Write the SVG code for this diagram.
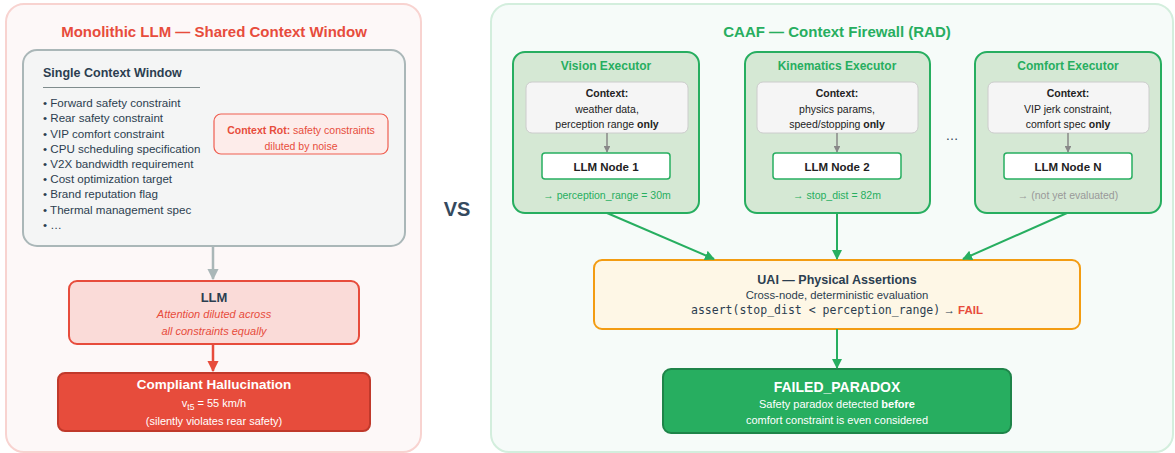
<svg xmlns="http://www.w3.org/2000/svg" width="1175" height="453" viewBox="0 0 1175 453">
<defs>
<style>
text{font-family:"Liberation Sans",Arial,sans-serif}
.b{font-weight:bold}
.c{text-anchor:middle}
.dark{fill:#2c3e50}
.red{fill:#e74c3c}
.grn{fill:#27ae60}
.wh{fill:#ffffff}
.exec{fill:#d5e8d4;stroke:#27ae60;stroke-width:2}
.ctx{fill:#f5f5f5;stroke:#cccccc;stroke-width:1}
.node{fill:#ffffff;stroke:#27ae60;stroke-width:1.5}
.et{font-size:12px;font-weight:bold;fill:#27ae60;text-anchor:middle}
.ct{font-size:10.5px;fill:#222;text-anchor:middle}
.nt{font-size:11.5px;font-weight:bold;fill:#222;text-anchor:middle}
.out{font-size:10.5px;text-anchor:middle}
.li{font-size:11.6px;fill:#2c3e50}
.gc{stroke:#27ae60;stroke-width:2;fill:none}
</style>
<marker id="ag" viewBox="0 0 10 10" refX="9" refY="5" markerWidth="5" markerHeight="5" orient="auto"><path d="M0,0L10,5L0,10z" fill="#27ae60"/></marker>
<marker id="agr" viewBox="0 0 10 10" refX="9" refY="5" markerWidth="4.5" markerHeight="4.5" orient="auto"><path d="M0,0L10,5L0,10z" fill="#888888"/></marker>
<marker id="ags" viewBox="0 0 10 10" refX="9" refY="5" markerWidth="4.5" markerHeight="4.5" orient="auto"><path d="M0,0L10,5L0,10z" fill="#aab7b8"/></marker>
<marker id="ar" viewBox="0 0 10 10" refX="9" refY="5" markerWidth="4.5" markerHeight="4.5" orient="auto"><path d="M0,0L10,5L0,10z" fill="#e74c3c"/></marker>
</defs>

<g id="left-panel">
<rect x="6" y="4" width="415" height="448" rx="18" fill="#fdf8f8" stroke="#f8d3d0" stroke-width="2"/>
<text x="214" y="37" class="b c red" font-size="15">Monolithic LLM — Shared Context Window</text>
</g>

<g id="right-panel">
<rect x="491" y="4" width="682" height="448" rx="18" fill="#f6fbf9" stroke="#d3eedd" stroke-width="2"/>
<text x="837" y="37" class="b c grn" font-size="15">CAAF — Context Firewall (RAD)</text>
</g>

<g id="vs"><text x="457" y="216" class="b c" font-size="20" fill="#34495e">VS</text></g>

<g id="context-window">
<rect x="23" y="50" width="382" height="196" rx="14" fill="#f4f5f5" stroke="#aab7b8" stroke-width="2"/>
<text x="43" y="77" class="b dark" font-size="12.5">Single Context Window</text>
<line x1="43" y1="87.5" x2="200" y2="87.5" stroke="#7f8c8d" stroke-width="1"/>
<text class="li" x="43" y="107">• Forward safety constraint</text>
<text class="li" x="43" y="122">• Rear safety constraint</text>
<text class="li" x="43" y="137.5">• VIP comfort constraint</text>
<text class="li" x="43" y="152.5">• CPU scheduling specification</text>
<text class="li" x="43" y="168">• V2X bandwidth requirement</text>
<text class="li" x="43" y="183">• Cost optimization target</text>
<text class="li" x="43" y="198">• Brand reputation flag</text>
<text class="li" x="43" y="214">• Thermal management spec</text>
<text class="li" x="43" y="229">• …</text>
</g>

<g id="context-rot">
<rect x="214" y="114" width="174" height="40" rx="7" fill="#fdecea" stroke="#ef5e50" stroke-width="1.2"/>
<text x="301" y="134" class="c red" font-size="10.5"><tspan font-weight="bold">Context Rot:</tspan> safety constraints</text>
<text x="301" y="150" class="c red" font-size="10.5">diluted by noise</text>
</g>

<g id="llm">
<rect x="69" y="281" width="290" height="63" rx="8" fill="#fadbd8" stroke="#e74c3c" stroke-width="2"/>
<text x="214" y="302" class="b c dark" font-size="13">LLM</text>
<text x="214" y="318" class="c red" font-size="11" font-style="italic">Attention diluted across</text>
<text x="214" y="335" class="c red" font-size="11" font-style="italic">all constraints equally</text>
</g>

<g id="hallucination">
<rect x="58" y="373" width="312" height="58" rx="7" fill="#e74c3c" stroke="#c0392b" stroke-width="2"/>
<text x="214" y="389" class="b c wh" font-size="13.5">Compliant Hallucination</text>
<text x="214" y="407" class="c wh" font-size="11">v<tspan font-size="8.5" dy="3">t5</tspan><tspan dy="-3"> = 55 km/h</tspan></text>
<text x="214" y="425" class="c wh" font-size="11">(silently violates rear safety)</text>
</g>

<g id="vision-executor">
<rect class="exec" x="513" y="52" width="186" height="161" rx="12"/>
<text class="et" x="606" y="70">Vision Executor</text>
<rect class="ctx" x="526" y="82" width="162" height="51" rx="6"/>
<text class="ct b" x="607" y="97">Context:</text>
<text class="ct" x="607" y="113">weather data,</text>
<text class="ct" x="607" y="128">perception range <tspan font-weight="bold">only</tspan></text>
<line x1="607" y1="133" x2="607" y2="152" stroke="#888888" stroke-width="1.5" marker-end="url(#agr)"/>
<rect class="node" x="542" y="153" width="128" height="26" rx="3"/>
<text class="nt" x="606" y="171">LLM Node 1</text>
<text class="out grn" x="607" y="199">→ perception_range = 30m</text>
</g>

<g id="kinematics-executor">
<rect class="exec" x="745" y="52" width="185" height="161" rx="12"/>
<text class="et" x="837" y="70">Kinematics Executor</text>
<rect class="ctx" x="757" y="82" width="161" height="51" rx="6"/>
<text class="ct b" x="837" y="97">Context:</text>
<text class="ct" x="837" y="113">physics params,</text>
<text class="ct" x="837" y="128">speed/stopping <tspan font-weight="bold">only</tspan></text>
<line x1="837" y1="133" x2="837" y2="152" stroke="#888888" stroke-width="1.5" marker-end="url(#agr)"/>
<rect class="node" x="773" y="153" width="128" height="26" rx="3"/>
<text class="nt" x="837" y="171">LLM Node 2</text>
<text class="out grn" x="837" y="199">→ stop_dist = 82m</text>
</g>

<g id="ellipsis"><text x="952" y="140" class="c dark" font-size="13">…</text></g>

<g id="comfort-executor">
<rect class="exec" x="975" y="52" width="186" height="161" rx="12"/>
<text class="et" x="1068" y="70">Comfort Executor</text>
<rect class="ctx" x="988" y="82" width="161" height="51" rx="6"/>
<text class="ct b" x="1068" y="97">Context:</text>
<text class="ct" x="1068" y="113">VIP jerk constraint,</text>
<text class="ct" x="1068" y="128">comfort spec <tspan font-weight="bold">only</tspan></text>
<line x1="1068" y1="133" x2="1068" y2="152" stroke="#888888" stroke-width="1.5" marker-end="url(#agr)"/>
<rect class="node" x="1004" y="153" width="128" height="26" rx="3"/>
<text class="nt" x="1068" y="171">LLM Node N</text>
<text class="out" x="1068" y="199" fill="#999999">→ (not yet evaluated)</text>
</g>

<g id="uai">
<rect x="594" y="260" width="486" height="69" rx="8" fill="#fef7e6" stroke="#f39c12" stroke-width="2"/>
<text x="837" y="284" class="b c dark" font-size="12.5">UAI — Physical Assertions</text>
<text x="837" y="299" class="c dark" font-size="11.3">Cross-node, deterministic evaluation</text>
<text x="837" y="314" class="c dark" font-size="11.5"><tspan font-family="'DejaVu Sans Mono','Liberation Mono',monospace" font-size="11.5">assert(stop_dist &lt; perception_range)</tspan> → <tspan font-weight="bold" fill="#e74c3c">FAIL</tspan></text>
</g>

<g id="failed-paradox">
<rect x="663" y="369" width="348" height="64" rx="8" fill="#27ae60" stroke="#1e8449" stroke-width="2"/>
<text x="837" y="392" class="b c wh" font-size="14">FAILED_PARADOX</text>
<text x="837" y="408" class="c wh" font-size="11">Safety paradox detected <tspan font-weight="bold">before</tspan></text>
<text x="837" y="424" class="c wh" font-size="11">comfort constraint is even considered</text>
</g>

<g id="connectors">
<line x1="213" y1="246" x2="213" y2="279" stroke="#aab7b8" stroke-width="2.5" marker-end="url(#ags)"/>
<line x1="213" y1="344" x2="213" y2="371" stroke="#e74c3c" stroke-width="2.5" marker-end="url(#ar)"/>
<line class="gc" x1="607" y1="213" x2="714" y2="259" marker-end="url(#ag)"/>
<line class="gc" x1="837" y1="213" x2="837" y2="259" marker-end="url(#ag)"/>
<line class="gc" x1="1067" y1="213" x2="963" y2="259" marker-end="url(#ag)"/>
<line class="gc" x1="837" y1="329" x2="837" y2="368" marker-end="url(#ag)"/>
</g>
</svg>
